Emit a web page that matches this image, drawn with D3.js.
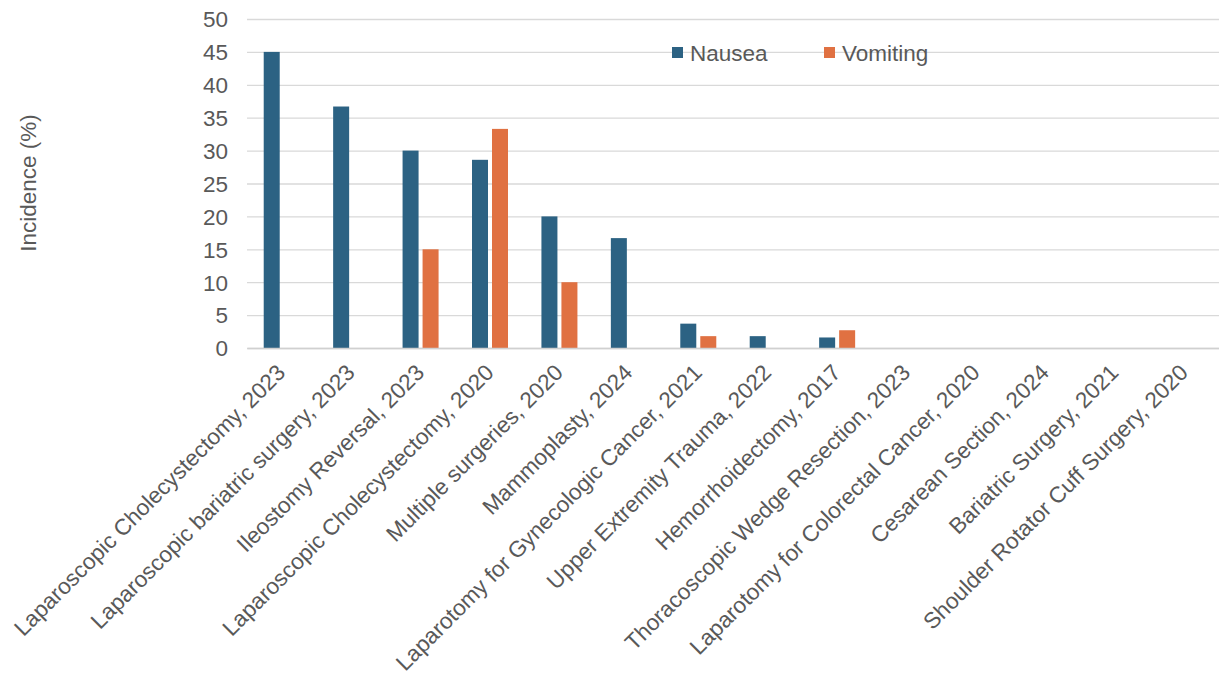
<!DOCTYPE html>
<html><head><meta charset="utf-8">
<script src="https://cdn.jsdelivr.net/npm/d3@7"></script>
<style>body{margin:0;background:#fff}svg{display:block}</style>
</head><body>
<svg id="c" width="1219" height="683"></svg>
<script>
const categories = ["Laparoscopic Cholecystectomy, 2023","Laparoscopic bariatric surgery, 2023","Ileostomy Reversal, 2023","Laparoscopic Cholecystectomy, 2020","Multiple surgeries, 2020","Mammoplasty, 2024","Laparotomy for Gynecologic Cancer, 2021","Upper Extremity Trauma, 2022","Hemorrhoidectomy, 2017","Thoracoscopic Wedge Resection, 2023","Laparotomy for Colorectal Cancer, 2020","Cesarean Section, 2024","Bariatric Surgery, 2021","Shoulder Rotator Cuff Surgery, 2020"];
const nausea = [45, 36.7, 30, 28.6, 20, 16.7, 3.7, 1.8, 1.6, 0, 0, 0, 0, 0];
const vomiting = [0, 0, 15, 33.3, 10, 0, 1.8, 0, 2.7, 0, 0, 0, 0, 0];
const seriesNames = ["Nausea","Vomiting"];
const colors = ["#2C6283","#E07142"];
const yTicks = [0,5,10,15,20,25,30,35,40,45,50];

const svg = d3.select("#c");
const font = "Liberation Sans, Arial, sans-serif";
const textColor = "#595959";
const x0 = d3.scaleBand().domain(categories).range([247,1219]).paddingInner(0).paddingOuter(0);
const x1 = d3.scaleBand().domain(seriesNames).range([-18,18]).paddingInner(0.2);
const y = d3.scaleLinear().domain([0,50]).range([348,19]);

// gridlines
svg.append("g").selectAll("line").data(yTicks).join("line")
  .attr("x1",247).attr("x2",1219).attr("y1",d=>y(d)+0.5).attr("y2",d=>y(d)+0.5)
  .attr("stroke","#d9d9d9").attr("stroke-width",1.3);

// y axis labels
const yAxis = d3.axisLeft(y).tickValues(yTicks).tickSize(0).tickPadding(0);
const ya = svg.append("g").attr("transform","translate(228,0)").call(yAxis);
ya.select(".domain").remove();
ya.selectAll("text").attr("font-family",font).attr("font-size",22.5).attr("fill",textColor).attr("dy","0.35em");

// bars
const data = categories.map((c,i)=>({c, vals:[nausea[i], vomiting[i]]}));
const g = svg.append("g");
data.forEach(d=>{
  d.vals.forEach((v,j)=>{
    if(v<=0) return;
    g.append("rect")
      .attr("x", x0(d.c)+x0.bandwidth()/2 + x1(seriesNames[j]))
      .attr("width", x1.bandwidth())
      .attr("y", y(v)).attr("height", y(0)-y(v))
      .attr("fill", colors[j]);
  });
});

// x axis
const xAxis = d3.axisBottom(x0).tickSize(0).tickPadding(0);
const xa = svg.append("g").attr("transform","translate(0,348)").call(xAxis);
xa.select(".domain").attr("stroke","#d0d0d0").attr("stroke-width",1.3);
xa.selectAll("text").attr("font-family",font).attr("font-size",22.5).attr("fill",textColor)
  .attr("text-anchor","end").attr("dy",null).attr("y",0)
  .attr("transform","translate(5,26) rotate(-45)");

// y title
svg.append("text").attr("transform","translate(36,183) rotate(-90)")
  .attr("text-anchor","middle").attr("font-family",font).attr("font-size",22.5)
  .attr("fill",textColor).text("Incidence (%)");

// legend
const legX = [672, 824];
seriesNames.forEach((n,i)=>{
  svg.append("rect").attr("x",legX[i]).attr("y",47).attr("width",11).attr("height",11).attr("fill",colors[i]);
  svg.append("text").attr("x",legX[i]+18).attr("y",60.5).attr("font-family",font).attr("font-size",22.5)
    .attr("fill",textColor).text(n);
});
</script>
</body></html>
